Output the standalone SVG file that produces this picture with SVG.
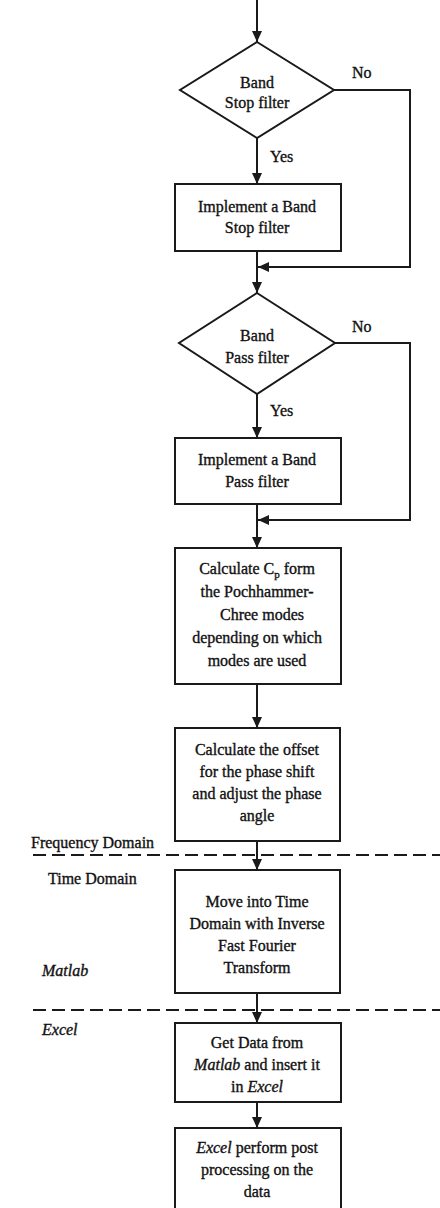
<svg xmlns="http://www.w3.org/2000/svg" width="440" height="1208" viewBox="0 0 440 1208">
<style>
.n{fill:#fff;stroke:#1a1a1a;stroke-width:2}
.c{fill:none;stroke:#1a1a1a;stroke-width:2}
.d{fill:none;stroke:#1a1a1a;stroke-width:2;stroke-dasharray:13 6}
text{font-family:"Liberation Serif","Times New Roman",serif;font-size:16px;fill:#111;stroke:#111;stroke-width:0.35}
.m{text-anchor:middle}
.i{font-style:italic}
</style>
<defs>
<marker id="ah" markerUnits="userSpaceOnUse" markerWidth="12" markerHeight="12" refX="11" refY="5" orient="auto">
<path d="M0,0 L11,5 L0,10 z" fill="#1a1a1a"/>
</marker>
</defs>
<rect width="440" height="1208" fill="#fff"/>
<g id="connectors">
<path class="c" d="M257,0 V42" marker-end="url(#ah)"/>
<path class="c" d="M257,138 V184" marker-end="url(#ah)"/>
<path class="c" d="M334,90 H410 V267 H258" marker-end="url(#ah)"/>
<path class="c" d="M257,251 V293" marker-end="url(#ah)"/>
<path class="c" d="M257,394 V438" marker-end="url(#ah)"/>
<path class="c" d="M335,343 H410 V520 H258" marker-end="url(#ah)"/>
<path class="c" d="M257,504 V548" marker-end="url(#ah)"/>
<path class="c" d="M257,684 V728" marker-end="url(#ah)"/>
<path class="c" d="M257,841 V870" marker-end="url(#ah)"/>
<path class="c" d="M257,993 V1023" marker-end="url(#ah)"/>
<path class="c" d="M257,1102 V1128" marker-end="url(#ah)"/>
<text x="352" y="78">No</text>
<text x="270" y="162">Yes</text>
<text x="352" y="332">No</text>
<text x="270" y="416">Yes</text>
</g>
<g id="domains">
<path class="d" d="M33,855 H440"/>
<path class="d" d="M33,1010 H440"/>
<text x="31" y="848">Frequency Domain</text>
<text x="48" y="884">Time Domain</text>
<text x="42" y="976" class="i">Matlab</text>
<text x="42" y="1035" class="i">Excel</text>
</g>
<g id="d1">
<polygon class="n" points="257,42 334,90 257,138 180,90"/>
<text class="m" x="257" y="88">Band</text>
<text class="m" x="257" y="108">Stop filter</text>
</g>
<g id="b1">
<rect class="n" x="175" y="184" width="166" height="67"/>
<text class="m" x="257" y="212">Implement a Band</text>
<text class="m" x="257" y="233">Stop filter</text>
</g>
<g id="d2">
<polygon class="n" points="257,293 335,343 257,394 179,343"/>
<text class="m" x="257" y="341">Band</text>
<text class="m" x="257" y="363">Pass filter</text>
</g>
<g id="b2">
<rect class="n" x="175" y="438" width="166" height="66"/>
<text class="m" x="257" y="465">Implement a Band</text>
<text class="m" x="257" y="487">Pass filter</text>
</g>
<g id="b3">
<rect class="n" x="175" y="548" width="166" height="136"/>
<text class="m" x="257" y="574">Calculate C<tspan font-size="11" dy="4">p</tspan><tspan dy="-4"> form</tspan></text>
<text class="m" x="257" y="597">the Pochhammer-</text>
<text class="m" x="262" y="620">Chree modes</text>
<text class="m" x="257" y="643">depending on which</text>
<text class="m" x="257" y="666">modes are used</text>
</g>
<g id="b4">
<rect class="n" x="175" y="728" width="165" height="113"/>
<text class="m" x="257" y="755">Calculate the offset</text>
<text class="m" x="257" y="777">for the phase shift</text>
<text class="m" x="257" y="799">and adjust the phase</text>
<text class="m" x="257" y="821">angle</text>
</g>
<g id="b5">
<rect class="n" x="175" y="870" width="165" height="123"/>
<text class="m" x="257" y="907">Move into Time</text>
<text class="m" x="257" y="929">Domain with Inverse</text>
<text class="m" x="257" y="951">Fast Fourier</text>
<text class="m" x="257" y="973">Transform</text>
</g>
<g id="b6">
<rect class="n" x="175" y="1023" width="166" height="79"/>
<text class="m" x="257" y="1048">Get Data from</text>
<text class="m" x="257" y="1070"><tspan class="i">Matlab</tspan> and insert it</text>
<text class="m" x="257" y="1092">in <tspan class="i">Excel</tspan></text>
</g>
<g id="b7">
<rect class="n" x="175" y="1128" width="166" height="86"/>
<text class="m" x="257" y="1153"><tspan class="i">Excel</tspan> perform post</text>
<text class="m" x="257" y="1175">processing on the</text>
<text class="m" x="257" y="1197">data</text>
</g>
</svg>
